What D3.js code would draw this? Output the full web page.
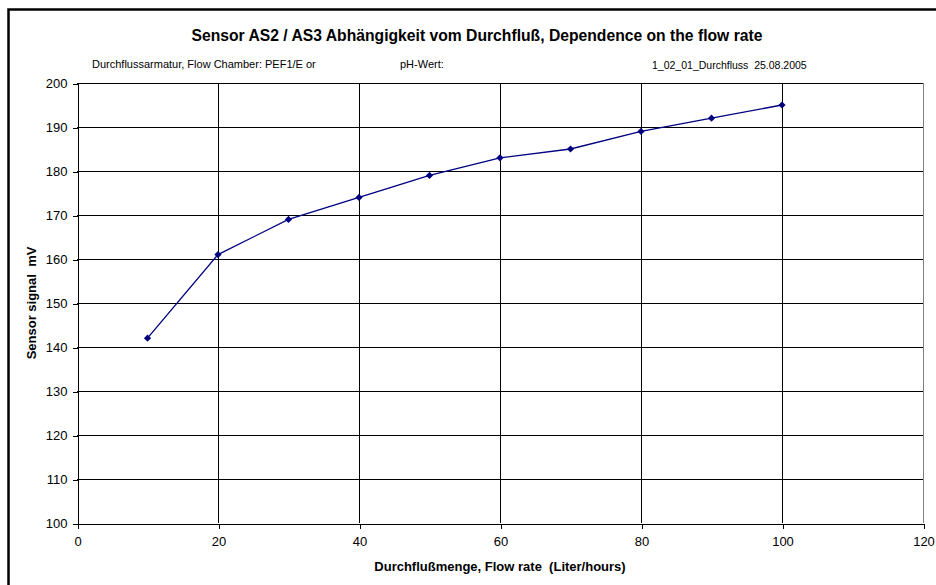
<!DOCTYPE html>
<html>
<head>
<meta charset="utf-8">
<script src="https://cdn.jsdelivr.net/npm/d3@7"></script>
<style>
  body { margin: 0; background: #fff; }
  svg { display: block; font-family: "Liberation Sans", Arial, sans-serif; }
  svg text { white-space: pre; }
</style>
</head>
<body>
<div id="chart"></div>
<script>
// Daten: Durchfluss (Liter/hours) und Sensorsignal (mV)
const durchfluss = [10, 20, 30, 40, 50, 60, 70, 80, 90, 100];
const signal_mv = [142, 161, 169, 174, 179, 183, 185, 189, 192, 195];
const ticks_x = [0, 20, 40, 60, 80, 100, 120];
const ticks_y = [100, 110, 120, 130, 140, 150, 160, 170, 180, 190, 200];

const titel = "Sensor AS2 / AS3 Abhängigkeit vom Durchfluß, Dependence on the flow rate";
const untertitel = ["Durchflussarmatur, Flow Chamber: PEF1/E or", "pH-Wert:", "1_02_01_Durchfluss  25.08.2005"];
const rotulo_x = "Durchflußmenge, Flow rate  (Liter/hours)";
const rotulo_y = "Sensor signal  mV";

const largura = 936, altura = 585;
const margem = { esquerda: 77, direita: 923, superior: 83, inferior: 523 };

const svg = d3.select("#chart").append("svg")
    .attr("width", largura)
    .attr("height", altura)
    .attr("viewBox", [0, 0, largura, altura]);

// moldura externa (continua além da imagem)
svg.append("rect")
    .attr("x", 8.5).attr("y", 9.5)
    .attr("width", 960).attr("height", 620)
    .attr("fill", "#fff")
    .attr("stroke", "#000")
    .attr("stroke-width", 2.5);

const x = d3.scaleLinear([0, 120], [margem.esquerda, margem.direita]);
const y = d3.scaleLinear([100, 200], [margem.inferior, margem.superior]);

// linhas de grade
const grade = svg.append("g").attr("shape-rendering", "crispEdges");
grade.selectAll("line.h")
  .data(ticks_y.filter(d => d > 100))
  .join("line")
    .attr("x1", margem.esquerda).attr("x2", margem.direita)
    .attr("y1", d => Math.round(y(d)) + 0.5).attr("y2", d => Math.round(y(d)) + 0.5)
    .attr("stroke", "#000");
grade.selectAll("line.v")
  .data(ticks_x.filter(d => d > 0 && d < 120))
  .join("line")
    .attr("y1", margem.superior).attr("y2", margem.inferior)
    .attr("x1", d => Math.round(x(d)) + 0.5).attr("x2", d => Math.round(x(d)) + 0.5)
    .attr("stroke", "#000");
// borda direita da área de plotagem (cinza)
grade.append("line")
    .attr("x1", Math.round(x(120)) + 0.5).attr("x2", Math.round(x(120)) + 0.5)
    .attr("y1", margem.superior).attr("y2", margem.inferior)
    .attr("stroke", "#808080");

// eixo y
svg.append("g")
    .attr("transform", `translate(${margem.esquerda + 0.5},0.5)`)
    .attr("shape-rendering", "crispEdges")
    .call(d3.axisLeft(y).tickValues(ticks_y).tickSize(5).tickPadding(5).tickSizeOuter(0))
    .call(g => g.selectAll("text").attr("font-family", "Liberation Sans, Arial, sans-serif").attr("font-size", 13).attr("fill", "#000"))
    .call(g => g.selectAll("line, path").attr("stroke", "#000"));

// eixo x
svg.append("g")
    .attr("transform", `translate(0.5,${margem.inferior + 0.5})`)
    .attr("shape-rendering", "crispEdges")
    .call(d3.axisBottom(x).tickValues(ticks_x).tickSize(5).tickPadding(8).tickSizeOuter(0))
    .call(g => g.selectAll("text").attr("font-family", "Liberation Sans, Arial, sans-serif").attr("font-size", 13).attr("fill", "#000"))
    .call(g => g.selectAll("line, path").attr("stroke", "#000"));

// série
const linha = d3.line()
    .x((d, i) => x(durchfluss[i]))
    .y(d => y(d));

svg.append("path")
    .attr("d", linha(signal_mv))
    .attr("fill", "none")
    .attr("stroke", "#000080")
    .attr("stroke-width", 1.3);

svg.append("g")
  .selectAll("path")
  .data(signal_mv)
  .join("path")
    .attr("d", d3.symbol(d3.symbolSquare, 26))
    .attr("transform", (d, i) => `translate(${x(durchfluss[i])},${y(d)}) rotate(45)`)
    .attr("fill", "#000080");

// textos
svg.append("text")
    .attr("x", 477).attr("y", 41)
    .attr("text-anchor", "middle")
    .attr("font-weight", "bold")
    .attr("font-size", 15.7)
    .text(titel);

svg.append("text").attr("x", 92).attr("y", 68).attr("font-size", 11).text(untertitel[0]);
svg.append("text").attr("x", 400).attr("y", 68).attr("font-size", 11).text(untertitel[1]);
svg.append("text").attr("x", 652).attr("y", 69).attr("font-size", 10.5).text(untertitel[2]);

svg.append("text")
    .attr("x", 500).attr("y", 571)
    .attr("text-anchor", "middle")
    .attr("font-weight", "bold")
    .attr("font-size", 13)
    .text(rotulo_x);

svg.append("text")
    .attr("transform", `translate(36,${(margem.superior + margem.inferior) / 2}) rotate(-90)`)
    .attr("text-anchor", "middle")
    .attr("font-weight", "bold")
    .attr("font-size", 13)
    .text(rotulo_y);
</script>
</body>
</html>
